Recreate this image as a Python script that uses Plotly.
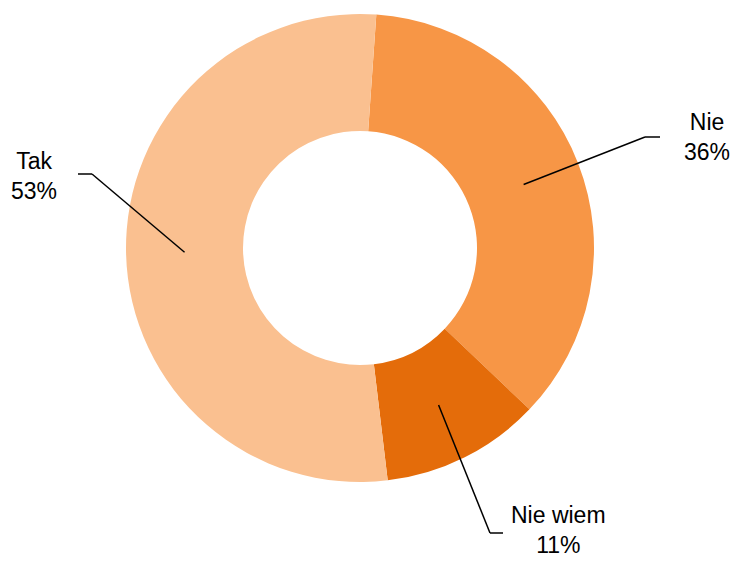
import math
import plotly.graph_objects as go

# Survey answers and their shares (%)
labels = ["Nie", "Nie wiem", "Tak"]
values = [36, 11, 53]
colors = ["#F79646", "#E46C0A", "#FAC090"]

# Label placement: elbow point of each leader line, and text centre (pixels)
label_elbows = [(645, 137), (490, 533), (92, 174)]
label_ends = [(660, 137), (503, 533), (78, 174)]
label_text_pos = [(707, 137), (558, 530), (34, 176)]

W, H = 734, 561
ROTATION = 4  # degrees clockwise from 12 o'clock
HOLE = 0.5

# Pie area in pixels
pie_left, pie_right, pie_top, pie_bottom = 126, 594, 14, 482
cx = (pie_left + pie_right) / 2
cy = (pie_top + pie_bottom) / 2
R = min(pie_right - pie_left, pie_bottom - pie_top) / 2


def px(x):
    return x / W


def py(y):
    return 1 - y / H


fig = go.Figure(
    go.Pie(
        labels=labels,
        values=values,
        hole=HOLE,
        sort=False,
        direction="clockwise",
        rotation=ROTATION,
        marker=dict(colors=colors, line=dict(color="white", width=0)),
        textinfo="none",
        hoverinfo="label+percent",
        showlegend=False,
        domain=dict(x=[px(pie_left), px(pie_right)], y=[py(pie_bottom), py(pie_top)]),
    )
)

shapes = []
annotations = []
total = sum(values)
cum = 0
for i, (lab, v) in enumerate(zip(labels, values)):
    mid = math.radians(ROTATION + 360 * (cum + v / 2) / total)
    cum += v
    r_anchor = R * (1 + HOLE) / 2
    ax = cx + r_anchor * math.sin(mid)
    ay = cy - r_anchor * math.cos(mid)
    ex, ey = label_elbows[i]
    tx, ty = label_ends[i]
    line_style = dict(color="black", width=1.5)
    shapes.append(dict(type="line", xref="paper", yref="paper",
                       x0=px(ax), y0=py(ay), x1=px(ex), y1=py(ey), line=line_style))
    shapes.append(dict(type="line", xref="paper", yref="paper",
                       x0=px(ex), y0=py(ey), x1=px(tx), y1=py(ty), line=line_style))
    lx, ly = label_text_pos[i]
    annotations.append(dict(
        x=px(lx), y=py(ly), xref="paper", yref="paper",
        text=f"{lab}<br>{round(100 * v / total)}%",
        showarrow=False, xanchor="center", yanchor="middle", align="center",
        font=dict(family="Liberation Sans, Arial, sans-serif", size=23, color="black"),
    ))

fig.update_layout(
    width=W, height=H,
    margin=dict(l=0, r=0, t=0, b=0),
    paper_bgcolor="white",
    plot_bgcolor="white",
    shapes=shapes,
    annotations=annotations,
)

fig.write_html("out.html")
